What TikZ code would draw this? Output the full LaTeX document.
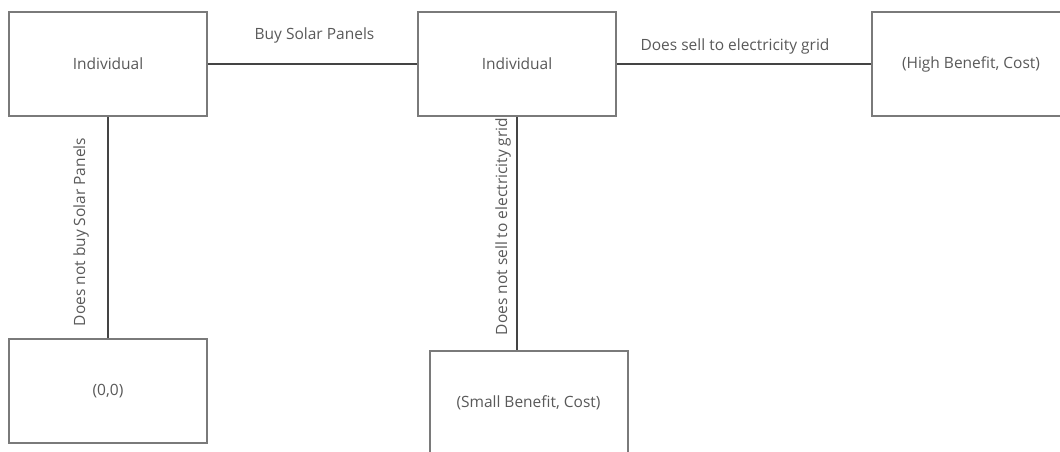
\documentclass[tikz,border=0pt]{standalone}
\usepackage{fontspec}
\setmainfont{Open Sans}
\definecolor{boxline}{HTML}{7A7A7A}
\definecolor{conline}{HTML}{444444}
\definecolor{txt}{HTML}{595959}
\begin{document}
\begin{tikzpicture}[
  every node/.style={font=\fontsize{15.5}{18}\selectfont, text=txt},
  box/.style={draw=boxline, line width=2pt, fill=white, minimum width=198pt, minimum height=104pt, inner sep=0pt},
  con/.style={draw=conline, line width=2pt},
  lab/.style={anchor=base, inner sep=0pt}
]
\useasboundingbox (0pt,0pt) rectangle (1060pt,-452pt);
\begin{scope}
\clip (0pt,0pt) rectangle (1060pt,-452pt);
\node[box] (i1) at (108pt,-64pt) {Individual};
\node[box] (i2) at (517pt,-64pt) {Individual};
\node[box] (hb) at (971pt,-64pt) {(High Benefit, Cost)};
\node[box] (z) at (108pt,-391pt) {(0,0)};
\node[box] (sb) at (528.5pt,-403pt) {(Small Benefit, Cost)};
\end{scope}
\draw[con] (i1.east) -- (i2.west)
  node[lab, midway, yshift=24pt, xshift=2pt] {Buy Solar Panels};
\draw[con] (i2.east) -- (hb.west)
  node[lab, midway, yshift=13pt, xshift=-9pt] {Does sell to electricity grid};
\draw[con] (i1.south) -- (z.north)
  node[lab, midway, rotate=90, xshift=-4.5pt, yshift=23pt] {Does not buy Solar Panels};
\draw[con] (i2.south) -- (i2.south |- sb.north)
  node[lab, midway, rotate=90, xshift=7pt, yshift=10pt] {Does not sell to electricity grid};
\end{tikzpicture}
\end{document}
